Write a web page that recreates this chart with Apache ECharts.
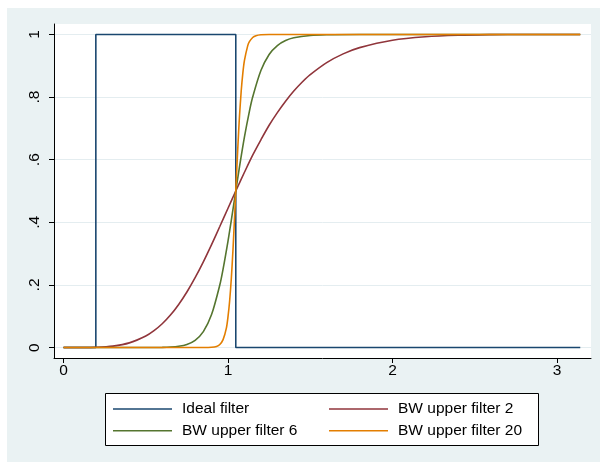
<!DOCTYPE html>
<html>
<head>
<meta charset="utf-8">
<script src="https://cdn.jsdelivr.net/npm/echarts@6/dist/echarts.min.js"></script>
<style>
html,body{margin:0;padding:0;background:#ffffff;}
#bg{position:absolute;left:7px;top:8px;width:593px;height:454px;background:#eaf2f3;}
#chart{position:absolute;left:0;top:0;width:600px;height:462px;}
</style>
</head>
<body>
<div id="bg"></div>
<div id="chart"></div>
<script>
// Ideal band-pass filter (step shape)
const idealX = [0, 0.19635, 0.19635, 1.0472, 1.0472, 3.1416];
const idealY = [0, 0, 1, 1, 0, 0];

// BW upper filter 2
const bw2X = [0, 0.1, 0.2, 0.3, 0.4, 0.5, 0.55, 0.6, 0.65, 0.7, 0.75, 0.8, 0.85, 0.9, 0.95, 1.0, 1.0472, 1.1, 1.15, 1.2, 1.25, 1.3, 1.35, 1.4, 1.45, 1.5, 1.6, 1.7, 1.8, 2.0, 2.2, 2.4, 2.6, 2.8, 3.0, 3.1416];
const bw2Y = [0, 0.0001, 0.0009, 0.0047, 0.0150, 0.0369, 0.0540, 0.0761, 0.1039, 0.1378, 0.1776, 0.2233, 0.2739, 0.3289, 0.3865, 0.4450, 0.5, 0.5598, 0.6145, 0.6635, 0.7099, 0.7504, 0.7868, 0.8192, 0.8473, 0.8715, 0.9100, 0.9379, 0.9578, 0.9815, 0.9926, 0.9975, 0.9993, 0.9999, 1.0, 1.0];

// BW upper filter 6
const bw6X = [0, 0.5, 0.6, 0.65, 0.7, 0.75, 0.8, 0.85, 0.9, 0.95, 0.97, 1.0, 1.02, 1.0472, 1.07, 1.1, 1.13, 1.15, 1.2, 1.25, 1.3, 1.35, 1.4, 1.5, 1.6, 1.8, 2.0, 3.1416];
const bw6Y = [0, 0.0001, 0.0006, 0.0016, 0.0041, 0.0100, 0.0232, 0.0509, 0.1053, 0.1997, 0.2506, 0.3400, 0.4062, 0.5, 0.5779, 0.6728, 0.7544, 0.8000, 0.8846, 0.9361, 0.9645, 0.9805, 0.9894, 0.9968, 0.9990, 0.9999, 1.0, 1.0];

// BW upper filter 20
const bw20X = [0, 0.85, 0.9, 0.93, 0.95, 0.97, 0.99, 1.0, 1.01, 1.02, 1.03, 1.04, 1.0472, 1.055, 1.065, 1.07, 1.08, 1.09, 1.1, 1.12, 1.13, 1.15, 1.17, 1.2, 1.25, 3.1416];
const bw20Y = [0, 0.0001, 0.0008, 0.0036, 0.0097, 0.0253, 0.0623, 0.0988, 0.1497, 0.2199, 0.3104, 0.4175, 0.5, 0.5889, 0.6938, 0.7401, 0.8176, 0.8758, 0.9171, 0.9643, 0.9768, 0.9902, 0.9959, 0.9989, 1.0, 1.0];

const xTicks = [0, 1, 2, 3];
const yTicks = [0, 0.2, 0.4, 0.6, 0.8, 1];
const yTickLabels = ['0', '.2', '.4', '.6', '.8', '1'];

const seriesNames = ['Ideal filter', 'BW upper filter 2', 'BW upper filter 6', 'BW upper filter 20'];
const colors = ['#1a476f', '#90353b', '#55752f', '#e37e00'];

function pairs(xs, ys) { return xs.map((x, i) => [x, ys[i]]); }

const FONT = "'Liberation Sans', Arial, Helvetica, sans-serif";
const chart = echarts.init(document.getElementById('chart'), null, {renderer: 'canvas'});
const data = [pairs(idealX, idealY), pairs(bw2X, bw2Y), pairs(bw6X, bw6Y), pairs(bw20X, bw20Y)];

const legendCommon = {
  orient: 'vertical', top: 401, padding: 0, icon: 'rect',
  itemWidth: 59, itemHeight: 1.6, itemGap: 5.7,
  textStyle: {fontSize: 15.5, lineHeight: 16, color: '#000000', fontFamily: FONT, padding: [0, 0, 0, 5]}
};

chart.setOption({
  backgroundColor: 'transparent',
  animation: false,
  textStyle: {fontFamily: FONT},
  grid: {left: 54, right: 9, top: 24, bottom: 104, show: true, backgroundColor: '#ffffff', borderWidth: 0},
  xAxis: {
    type: 'value', min: -0.058, max: 3.207,
    axisLine: {show: true, onZero: false, lineStyle: {color: '#000000', width: 1}},
    axisTick: {show: true, length: 5, customValues: xTicks, lineStyle: {color: '#000000'}},
    axisLabel: {customValues: xTicks, color: '#000000', fontSize: 15.5, fontFamily: FONT, margin: 5},
    splitLine: {show: false}
  },
  yAxis: {
    type: 'value', min: -0.0333, max: 1.0333,
    axisLine: {show: true, onZero: false, lineStyle: {color: '#000000', width: 1}},
    axisTick: {show: true, length: 5, customValues: yTicks, lineStyle: {color: '#000000'}},
    axisLabel: {
      customValues: yTicks, color: '#000000', fontSize: 15.5, fontFamily: FONT, rotate: 90, margin: 11,
      formatter: function (v) { const i = yTicks.findIndex(t => Math.abs(t - v) < 1e-9); return i >= 0 ? yTickLabels[i] : ''; }
    },
    splitLine: {show: true, lineStyle: {color: '#e4edf0', width: 1}}
  },
  graphic: [{
    type: 'rect', shape: {x: 105.5, y: 393.5, width: 433, height: 52},
    style: {fill: '#ffffff', stroke: '#000000', lineWidth: 1}, z: 0
  }],
  legend: [
    Object.assign({data: [seriesNames[0], seriesNames[2]], left: 113}, legendCommon),
    Object.assign({data: [seriesNames[1], seriesNames[3]], left: 329}, legendCommon)
  ],
  series: seriesNames.map((name, i) => ({
    name: name, type: 'line', data: data[i], symbol: 'none', showSymbol: false,
    smooth: i === 0 ? false : 0.3,
    lineStyle: {color: colors[i], width: 1.6}, itemStyle: {color: colors[i]},
    z: 2 + i
  }))
});
</script>
</body>
</html>
